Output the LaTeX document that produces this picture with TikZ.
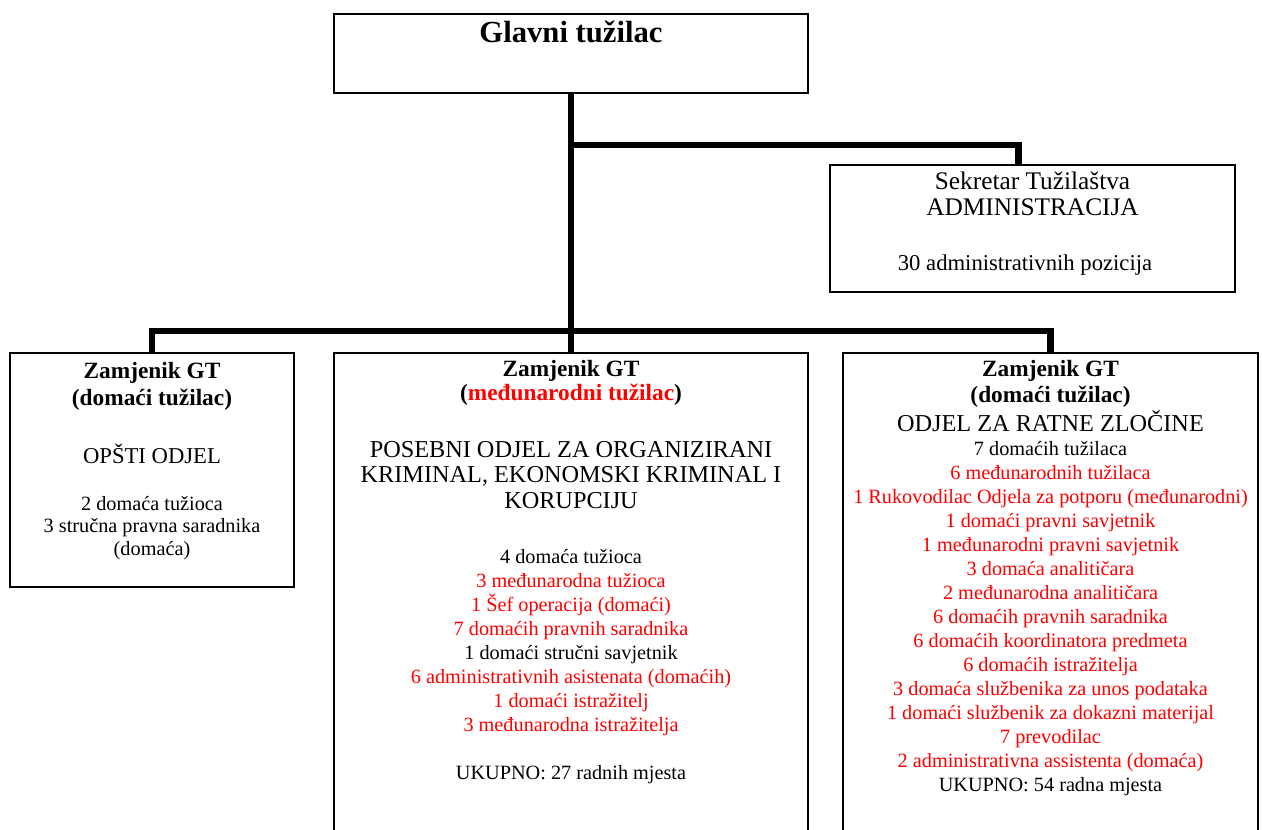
\documentclass[tikz,border=0pt]{standalone}
\usepackage{fontspec}
\setmainfont{Liberation Serif}
\usetikzlibrary{calc}
\begin{document}
\begin{tikzpicture}[x=0.75pt,y=-0.75pt,
  box/.style={draw=black, line width=1.5pt, inner sep=0pt, fill=none},
  conn/.style={draw=black, line width=5pt},
  txt/.style={anchor=base, inner sep=0pt, font=\fontsize{15.2}{18}\selectfont},
  hdr/.style={anchor=base, inner sep=0pt, font=\fontsize{17.5}{21}\selectfont\bfseries},
  ttl/.style={anchor=base, inner sep=0pt, font=\fontsize{18.2}{22}\selectfont},
  sek/.style={anchor=base, inner sep=0pt, font=\fontsize{19}{23}\selectfont}]
\useasboundingbox (0,0) rectangle (1262,829);
\clip (0,0) rectangle (1262,829);

% boxes
\node[box, minimum width=355.5pt, minimum height=59.25pt] (gt) at (571,53.5) {};
\node[box, minimum width=303.75pt, minimum height=95.25pt] (sk) at (1032.5,228.5) {};
\node[box, minimum width=213pt, minimum height=175.5pt] (lb) at (152,470) {};
\node[box, minimum width=355.5pt, minimum height=410.25pt] (mb) at (571,626.5) {};
\node[box, minimum width=311.25pt, minimum height=410.25pt] (rb) at (1050.5,626.5) {};

% connectors
\coordinate (j1) at (571,145);
\coordinate (bus) at (571,331);
\draw[conn] (gt.south) -- (bus);
\draw[conn] (j1) -| ($(sk.north)+(-14,0)$);
\draw[conn] (lb.north) |- (bus) -| (rb.north);
\draw[conn] (bus) -- (mb.north);

% top
\node[anchor=base, inner sep=0pt, font=\fontsize{23}{27}\selectfont\bfseries] (gtt) at (571,42.7) {Glavni tužilac};

% sekretar
\node[sek] (sk1) at (1032.5,189.3) {Sekretar Tužilaštva};
\node[sek] (sk2) at (1032.5,215) {ADMINISTRACIJA};
\node[sek, font=\fontsize{17}{21}\selectfont] (sk3) at (1025,270) {30 administrativnih pozicija};

% left
\node[hdr] (l1) at (152,378.3) {Zamjenik GT};
\node[hdr] (l2) at (152,405) {(domaći tužilac)};
\node[ttl, font=\fontsize{17}{21}\selectfont] (l3) at (152,463.3) {OPŠTI ODJEL};
\node[txt] (l4) at (152,510) {2 domaća tužioca};
\node[txt] (l5) at (152,532.5) {3 stručna pravna saradnika};
\node[txt] (l6) at (152,555) {(domaća)};

% middle
\node[hdr] (m1) at (571,376) {Zamjenik GT};
\node[hdr] (m2) at (571,400) {(\textcolor{red}{međunarodni tužilac})};
\node[ttl] (m3) at (571,457.3) {POSEBNI ODJEL ZA ORGANIZIRANI};
\node[ttl] (m4) at (571,482.8) {KRIMINAL, EKONOMSKI KRIMINAL I};
\node[ttl] (m5) at (571,508.3) {KORUPCIJU};
\foreach \t/\c [count=\i from 0] in {
  {4 domaća tužioca}/black,
  {3 međunarodna tužioca}/red,
  {1 Šef operacija (domaći)}/red,
  {7 domaćih pravnih saradnika}/red,
  {1 domaći stručni savjetnik}/black,
  {6 administrativnih asistenata (domaćih)}/red,
  {1 domaći istražitelj}/red,
  {3 međunarodna istražitelja}/red}
  \node[txt, text=\c] (mt\i) at (571,{563.3+24*\i}) {\t};
\node[txt] (mtot) at (571,779.3) {UKUPNO: 27 radnih mjesta};

% right
\node[hdr] (r1) at (1050.5,376) {Zamjenik GT};
\node[hdr] (r2) at (1050.5,402) {(domaći tužilac)};
\node[ttl] (r3) at (1050.5,431.5) {ODJEL ZA RATNE ZLOČINE};
\foreach \t/\c [count=\i from 0] in {
  {7 domaćih tužilaca}/black,
  {6 međunarodnih tužilaca}/red,
  {1 Rukovodilac Odjela za potporu (međunarodni)}/red,
  {1 domaći pravni savjetnik}/red,
  {1 međunarodni pravni savjetnik}/red,
  {3 domaća analitičara}/red,
  {2 međunarodna analitičara}/red,
  {6 domaćih pravnih saradnika}/red,
  {6 domaćih koordinatora predmeta}/red,
  {6 domaćih istražitelja}/red,
  {3 domaća službenika za unos podataka}/red,
  {1 domaći službenik za dokazni materijal}/red,
  {7 prevodilac}/red,
  {2 administrativna assistenta (domaća)}/red,
  {UKUPNO: 54 radna mjesta}/black}
  \node[txt, text=\c] (rt\i) at (1050.5,{455+24*\i}) {\t};
\end{tikzpicture}
\end{document}
